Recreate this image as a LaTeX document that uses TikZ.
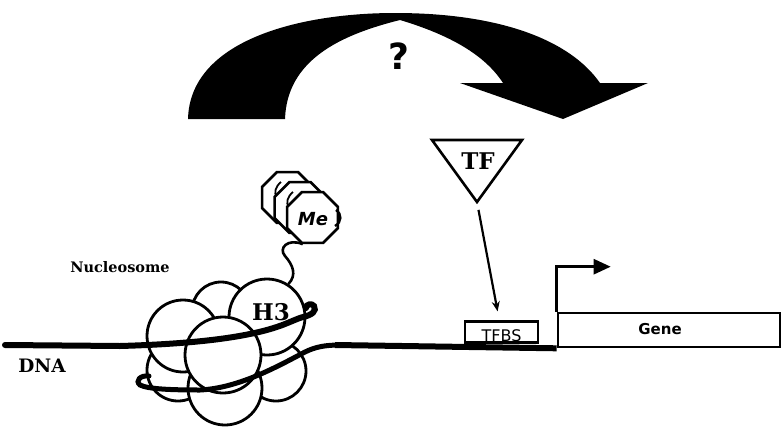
\documentclass[tikz,border=0pt]{standalone}
\usepackage{fontspec}
\newfontfamily\comicfont{DejaVu Sans}
\newfontfamily\heavyserif{DejaVu Serif}
\usetikzlibrary{arrows.meta,shapes.geometric}
\begin{document}
\begin{tikzpicture}[x=1pt,y=-1pt,
  histone/.style={circle,draw=black,fill=white,line width=2.8pt,inner sep=0pt},
  dnastrand/.style={line width=6pt,line cap=round},
  modgroup/.style={regular polygon,regular polygon sides=8,minimum size=55pt,
    inner sep=0pt,draw,fill=white,line width=2.6pt},
  curlmark/.style={line width=1.8pt,-{Stealth[length=4pt,width=4pt]}},
  seriflabel/.style={font=\heavyserif\bfseries\fontsize{14.5}{16}\selectfont},
  biglabel/.style={font=\heavyserif\bfseries\fontsize{23}{25}\selectfont},
  comiclabel/.style={font=\comicfont\bfseries\fontsize{15}{17}\selectfont},
  boxstyle/.style={draw,line width=2.6pt,fill=white,inner sep=0pt}
]
\useasboundingbox (0,0) rectangle (782,426);

% curved feedback arrow with the question mark
\fill[black] (188,119) .. controls (190,40) and (300,13) .. (395,13)
  .. controls (500,13) and (570,40) .. (600,83)
  -- (648,83) -- (563,119) -- (460,83) -- (503,83)
  .. controls (485,55) and (450,35) .. (400,20)
  .. controls (340,35) and (287,60) .. (285,119) -- cycle;
\node[font=\comicfont\bfseries\fontsize{36}{38}\selectfont] (qmark) at (399,56) {?};

% histone octamer, back to front
\node[histone,minimum size=58pt] (hback)  at (221,311) {};
\node[histone,minimum size=60pt] (hbr)    at (276,371) {};
\node[histone,minimum size=62pt] (hbl)    at (178,370) {};
\node[histone,minimum size=74pt] (hbc)    at (225,388) {};
\node[histone,minimum size=72pt] (hul)    at (183,336) {};
\node[histone,minimum size=76pt] (hthree) at (267,317) {};
\node[histone,minimum size=76pt] (hfront) at (223,355) {};
\node[biglabel] (h3label) at (271,312) {H3};

% DNA wrapping the octamer
\draw[dnastrand] (5,345) -- (120,346)
  .. controls (190,344) and (250,338) .. (285,324)
  .. controls (295,320) and (299,318) .. (303,317)
  .. controls (312,315) and (317,311) .. (314,306)
  .. controls (312,303) and (306,304) .. (306,308);
\draw[dnastrand,line width=5pt] (149,376) .. controls (140,375) and (135,381) .. (140,385)
  .. controls (148,389) and (170,390) .. (200,390)
  .. controls (240,388) and (280,365) .. (305,352)
  .. controls (315,347) and (325,345) .. (340,345);

% methyl groups on the H3 tail
\node[modgroup] (meback)  at (287.5,197.5) {};
\draw[curlmark] (281,182) .. controls (275,187) and (274,193) .. (278,199);
\node[modgroup] (memid)   at (300,207.5) {};
\draw[curlmark] (293,192) .. controls (287,197) and (286,203) .. (290,209);
\node[modgroup] (mefront) at (312.5,217.5) {};
\node[font=\comicfont\bfseries\itshape\fontsize{18}{20}\selectfont] (melabel) at (313,219) {Me};
\draw[line width=2.4pt] (336,210) .. controls (342,214) and (342,222) .. (335,226);
\draw[line width=2.6pt] (mefront.250) .. controls (288,238) and (278,248) .. (285,256)
  .. controls (293,265) and (297,275) .. (hthree.57);

% labels
\node[seriflabel] (nuclabel) at (120,267) {Nucleosome};
\node[seriflabel,font=\heavyserif\bfseries\fontsize{18.5}{20}\selectfont] (dnalabel) at (42,366) {DNA};

% transcription factor
\draw[line width=2.6pt,fill=white,line join=miter] (432,140) -- (522,140) -- (477,202) -- cycle;
\coordinate (tfapex) at (477,202);
\node[biglabel] (tf) at (478,161) {TF};

% binding site, gene and promoter
\node[boxstyle,minimum width=73pt,minimum height=21pt] (tfbs) at (501.5,332) {};
\node[font=\comicfont\fontsize{16}{18}\selectfont] (tfbslabel) at (501.5,336) {TFBS};
\node[boxstyle,minimum width=222pt,minimum height=34pt] (gene) at (669,330) {};
\node[comiclabel] (genelabel) at (660,329) {Gene};
\draw[line width=2.6pt,-{Triangle[length=17pt,width=15pt]}]
  (gene.north west) -- ++(0,-45) -- ++(54,0);
\draw[line width=2.2pt,-{Stealth[length=10pt,width=8pt]},shorten <=8pt,shorten >=21pt]
  (tfapex) -- (tfbs.center);

% DNA from the nucleosome to the gene
\draw[dnastrand,line cap=butt] (335,345) -- (gene.south west);
\end{tikzpicture}
\end{document}
